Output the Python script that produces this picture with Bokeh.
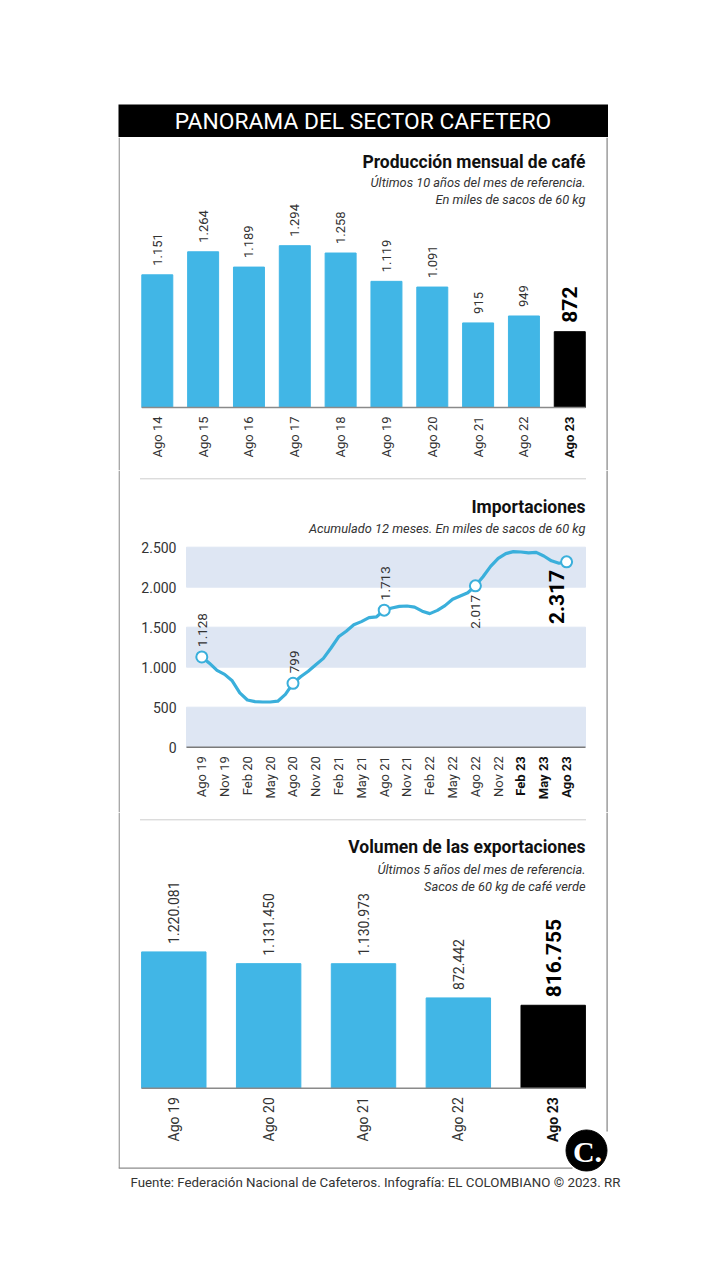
import math
from bokeh.plotting import figure
from bokeh.models import Range1d, LinearAxis, FixedTicker, Spacer
from bokeh.layouts import column, row
from bokeh.core.properties import value
from bokeh.embed import file_html
from bokeh.resources import INLINE

# ---------------- data ----------------
prod_labels = ["Ago 14", "Ago 15", "Ago 16", "Ago 17", "Ago 18",
               "Ago 19", "Ago 20", "Ago 21", "Ago 22", "Ago 23"]
prod_values = [1151, 1264, 1189, 1294, 1258, 1119, 1091, 915, 949, 872]
prod_base = 500

imp_tick_labels = ["Ago 19", "Nov 19", "Feb 20", "May 20", "Ago 20", "Nov 20",
                   "Feb 21", "May 21", "Ago 21", "Nov 21", "Feb 22", "May 22",
                   "Ago 22", "Nov 22", "Feb 23", "May 23", "Ago 23"]
imp_bold_labels = ["Feb 23", "May 23", "Ago 23"]
# monthly values Ago 19 .. Ago 23 (thousand bags, 12-month accumulated)
imp_values = [1128, 1050, 960, 910, 830, 680, 590, 570, 565, 565, 575, 660,
              799, 880, 950, 1030, 1110, 1240, 1380, 1450, 1530, 1570, 1620, 1630,
              1713, 1740, 1760, 1765, 1750, 1700, 1670, 1710, 1770, 1850, 1890, 1930,
              2017, 2130, 2260, 2360, 2420, 2445, 2440, 2430, 2435, 2390, 2330, 2300,
              2317]
imp_marked_labels = ["Ago 19", "Ago 20", "Ago 21", "Ago 22", "Ago 23"]
imp_y_ticks = [0, 500, 1000, 1500, 2000, 2500]

exp_labels = ["Ago 19", "Ago 20", "Ago 21", "Ago 22", "Ago 23"]
exp_values = [1220081, 1131450, 1130973, 872442, 816755]
exp_base = 190000

# ---------------- styles ----------------
BLUE = "#41B6E6"
LINE_BLUE = "#3AAFDB"
BAND = "#DEE6F3"
FRAME = "#8c8c8c"
TXT = "#333333"
FONT = "Roboto"
LEFT = 118
W = 490
VERT = math.pi / 2


def fmt(v):
    return f"{v:,}".replace(",", ".")


def make_fig(top, h, px0, ppx, py0, base, ppu):
    xs = (LEFT - px0) / ppx
    xe = (LEFT + W - px0) / ppx
    ys = base - (top + h - py0) / ppu
    ye = base + (py0 - top) / ppu
    p = figure(width=W, height=h, x_range=Range1d(xs, xe), y_range=Range1d(ys, ye),
               x_axis_location=None, y_axis_location=None, toolbar_location=None,
               output_backend="svg", min_border=0, outline_line_color=None,
               background_fill_color="white", border_fill_color="white")
    p.grid.visible = False

    def X(px):
        return (px - px0) / ppx

    def Y(py):
        return base + (py0 - py) / ppu
    return p, X, Y


def titles(p, X, Y, title, subs, ty, sy):
    p.text(x=[X(585)], y=[Y(ty)], text=[title], text_align="right", text_baseline="middle",
           text_font=value(FONT), text_font_style="bold", text_font_size="17.5px",
           text_color="#111111")
    p.text(x=[X(585)] * len(subs), y=[Y(v) for v in sy], text=subs, text_align="right",
           text_baseline="middle", text_font=value(FONT), text_font_style="italic",
           text_font_size="12.8px", text_color=TXT)


def frame_lines(p, X, Y, top, bottom, right_bottom=None):
    p.segment(x0=[X(118.6)], x1=[X(118.6)], y0=[Y(top)], y1=[Y(bottom)],
              line_color=FRAME, line_width=1.3)
    rb = bottom if right_bottom is None else right_bottom
    p.segment(x0=[X(606.6)], x1=[X(606.6)], y0=[Y(top)], y1=[Y(rb)],
              line_color=FRAME, line_width=1.3)


def separator(p, X, Y, py):
    p.segment(x0=[X(140)], x1=[X(585)], y0=[Y(py)], y1=[Y(py)],
              line_color="#9a9a9a", line_width=1, line_dash="1 1")


def cat_axis(p, loc, ticks, labels, bold, size):
    ax = LinearAxis(fixed_location=loc, ticker=FixedTicker(ticks=ticks),
                    major_label_overrides={t: l for t, l in zip(ticks, labels)},
                    major_label_orientation=VERT, axis_line_color=None,
                    major_tick_line_color=None, minor_tick_line_color=None,
                    major_tick_in=0, major_tick_out=0,
                    major_label_standoff=9, major_label_text_font=FONT,
                    major_label_text_font_size=size,
                    major_label_text_font_style="bold" if bold else "normal",
                    major_label_text_color="#111111" if bold else TXT)
    p.add_layout(ax, "below")


# ---------------- header ----------------
head = figure(width=W, height=33, x_range=Range1d(LEFT, LEFT + W), y_range=Range1d(137, 104),
              x_axis_location=None, y_axis_location=None, toolbar_location=None,
              output_backend="svg", min_border=0, outline_line_color=None,
              background_fill_color="black", border_fill_color="black")
head.grid.visible = False
head.text(x=[362.5], y=[121], text=["PANORAMA DEL SECTOR CAFETERO"], text_align="center",
          text_baseline="middle", text_font=value(FONT), text_font_size="22.8px",
          text_color="white")

# ---------------- production ----------------
T1, H1 = 137, 333
p1, X1, Y1 = make_fig(T1, H1, 156.8, 45.83, 407, prod_base, 0.2038)
frame_lines(p1, X1, Y1, T1, T1 + H1)
titles(p1, X1, Y1, "Producción mensual de café",
       ["Últimos 10 años del mes de referencia.", "En miles de sacos de 60 kg"],
       161, [182, 198.5])
n1 = len(prod_values)
idx1 = list(range(n1))
bw1 = 0.676
p1.vbar(x=idx1, top=prod_values, bottom=prod_base, width=bw1,
        color=[BLUE] * (n1 - 1) + ["black"])
p1.segment(x0=[-bw1 / 2], x1=[n1 - 1 + bw1 / 2], y0=[prod_base], y1=[prod_base],
           line_color="#8a8a8a", line_width=1.5)
p1.text(x=idx1[:-1], y=prod_values[:-1], text=[fmt(v) for v in prod_values[:-1]],
        angle=VERT, text_align="left", text_baseline="middle", y_offset=-9,
        text_font=value(FONT), text_font_size="13px", text_color=TXT)
p1.text(x=idx1[-1:], y=prod_values[-1:], text=[fmt(v) for v in prod_values[-1:]],
        angle=VERT, text_align="left", text_baseline="middle", y_offset=-9,
        text_font=value(FONT), text_font_style="bold", text_font_size="21px",
        text_color="black")
cat_axis(p1, prod_base, idx1[:-1], prod_labels[:-1], False, "13px")
cat_axis(p1, prod_base, idx1[-1:], prod_labels[-1:], True, "13px")

# ---------------- imports ----------------
T2, H2 = 470, 342
p2, X2, Y2 = make_fig(T2, H2, 201.3, 7.6, 746.7, 0, 0.08)
frame_lines(p2, X2, Y2, T2, T2 + H2)
separator(p2, X2, Y2, 478.3)
titles(p2, X2, Y2, "Importaciones",
       ["Acumulado 12 meses. En miles de sacos de 60 kg"], 506, [527.7])
p2.quad(left=X2(186), right=X2(585), bottom=imp_y_ticks[0::2], top=imp_y_ticks[1::2],
        color=BAND)
p2.segment(x0=[X2(186)], x1=[X2(585)], y0=[0], y1=[0], line_color="#7a7a7a", line_width=1.5)
yax = LinearAxis(fixed_location=X2(184), ticker=FixedTicker(ticks=imp_y_ticks),
                 major_label_overrides={t: fmt(t) for t in imp_y_ticks},
                 axis_line_color=None, major_tick_line_color=None, minor_tick_line_color=None,
                 major_tick_in=0, major_tick_out=0,
                 major_label_standoff=8, major_label_text_font=FONT,
                 major_label_text_font_size="14px", major_label_text_color=TXT)
p2.add_layout(yax, "left")
months = list(range(len(imp_values)))
tick_pos = months[::3]
norm = [(t, l) for t, l in zip(tick_pos, imp_tick_labels) if l not in imp_bold_labels]
bold = [(t, l) for t, l in zip(tick_pos, imp_tick_labels) if l in imp_bold_labels]
cat_axis(p2, 0, [t for t, _ in norm], [l for _, l in norm], False, "13px")
cat_axis(p2, 0, [t for t, _ in bold], [l for _, l in bold], True, "13px")
p2.line(x=months, y=imp_values, line_color=LINE_BLUE, line_width=3.2, line_join="round")
mk = [tick_pos[imp_tick_labels.index(l)] for l in imp_marked_labels]
mv = [imp_values[i] for i in mk]
p2.scatter(x=mk, y=mv, size=11, marker="circle", fill_color="white",
           line_color=LINE_BLUE, line_width=2)
# labels above markers (first three), below (last two)
p2.text(x=mk[:3], y=mv[:3], text=[fmt(v) for v in mv[:3]], angle=VERT,
        text_align="left", text_baseline="middle", x_offset=1, y_offset=-10,
        text_font=value(FONT), text_font_size="13.5px", text_color=TXT)
p2.text(x=mk[3:4], y=mv[3:4], text=[fmt(v) for v in mv[3:4]], angle=VERT,
        text_align="right", text_baseline="middle", y_offset=9,
        text_font=value(FONT), text_font_size="13.5px", text_color=TXT)
p2.text(x=mk[4:], y=mv[4:], text=[fmt(v) for v in mv[4:]], angle=VERT,
        text_align="right", text_baseline="middle", x_offset=-10, y_offset=8,
        text_font=value(FONT), text_font_style="bold", text_font_size="21px",
        text_color="black")

# ---------------- exports ----------------
T3, H3 = 812, 360
p3, X3, Y3 = make_fig(T3, H3, 173.3, 94.85, 1087.7, exp_base, 1.323e-4)
frame_lines(p3, X3, Y3, T3, 1167.7, right_bottom=1131)
separator(p3, X3, Y3, 819.3)
titles(p3, X3, Y3, "Volumen de las exportaciones",
       ["Últimos 5 años del mes de referencia.", "Sacos de 60 kg de café verde"],
       846, [869, 885.7])
n3 = len(exp_values)
idx3 = list(range(n3))
bw3 = 0.679
p3.vbar(x=idx3, top=exp_values, bottom=exp_base, width=bw3,
        color=[BLUE] * (n3 - 1) + ["black"])
p3.segment(x0=[-bw3 / 2], x1=[n3 - 1 + bw3 / 2], y0=[exp_base], y1=[exp_base],
           line_color="#8a8a8a", line_width=1.5)
p3.text(x=idx3[:-1], y=exp_values[:-1], text=[fmt(v) for v in exp_values[:-1]],
        angle=VERT, text_align="left", text_baseline="middle", y_offset=-8,
        text_font=value(FONT), text_font_size="14px", text_color=TXT)
p3.text(x=idx3[-1:], y=exp_values[-1:], text=[fmt(v) for v in exp_values[-1:]],
        angle=VERT, text_align="left", text_baseline="middle", y_offset=-8,
        text_font=value(FONT), text_font_style="bold", text_font_size="21px",
        text_color="black")
cat_axis(p3, exp_base, idx3[:-1], exp_labels[:-1], False, "14px")
cat_axis(p3, exp_base, idx3[-1:], exp_labels[-1:], True, "14px")
p3.segment(x0=[X3(118)], x1=[X3(572)], y0=[Y3(1167.7)], y1=[Y3(1167.7)],
           line_color=FRAME, line_width=1.3)
p3.scatter(x=[X3(586)], y=[Y3(1150)], size=41, marker="circle", fill_color="black",
           line_color="black")
p3.text(x=[X3(586)], y=[Y3(1150)], text=["C."], text_align="center", text_baseline="middle",
        x_offset=1, y_offset=1, text_font=value("Liberation Serif"), text_font_style="bold",
        text_font_size="30px", text_color="white")

# ---------------- footer ----------------
FW = 530
foot = figure(width=FW, height=24, x_range=Range1d(LEFT, LEFT + FW), y_range=Range1d(1196, 1172),
              x_axis_location=None, y_axis_location=None, toolbar_location=None,
              output_backend="svg", min_border=0, outline_line_color=None,
              background_fill_color="white", border_fill_color="white")
foot.grid.visible = False
foot.text(x=[130], y=[1182], text=["Fuente: Federación Nacional de Cafeteros. Infografía: EL COLOMBIANO © 2023. RR"],
          text_align="left", text_baseline="middle", text_font=value(FONT),
          text_font_size="13.3px", text_color=TXT)

layout = row(Spacer(width=118, height=10),
             column(Spacer(width=W, height=104), head, p1, p2, p3, foot))

open("out.html", "w").write(file_html(layout, INLINE))
